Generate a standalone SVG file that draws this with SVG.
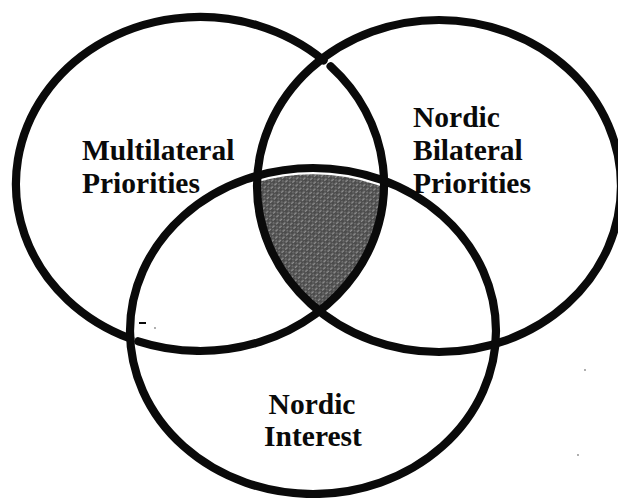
<svg xmlns="http://www.w3.org/2000/svg" width="618" height="498" viewBox="0 0 618 498">
  <style>
    .ring { fill: none; stroke: #0a0a0a; stroke-width: 8.2; stroke-linecap: round; }
    .label { font-family: "Liberation Serif", "Times New Roman", serif; font-weight: bold; font-size: 29.5px; fill: #0a0a0a; }
    .speck { fill: #8a8a8a; }
  </style>
  <defs>
    <clipPath id="clip-left">
      <ellipse cx="200" cy="184" rx="184" ry="167"/>
    </clipPath>
    <clipPath id="clip-right">
      <ellipse cx="439" cy="186" rx="182" ry="166"/>
    </clipPath>
    <!-- grainy grey used for the common area -->
    <pattern id="grain" width="5" height="5" patternUnits="userSpaceOnUse" patternTransform="rotate(-42)">
      <rect width="5" height="5" fill="#4c4c4c"/>
      <line x1="0" y1="1.2" x2="3.2" y2="1.2" stroke="#b8b8b8" stroke-width="0.9"/>
      <rect x="3.6" y="3.4" width="0.9" height="0.9" fill="#d4d4d4"/>
    </pattern>
  </defs>

  <rect width="618" height="498" fill="#ffffff"/>

  <!-- area shared by all three sets -->
  <g id="overlap" clip-path="url(#clip-left)">
    <g clip-path="url(#clip-right)">
      <ellipse cx="313" cy="331" rx="183" ry="163" fill="url(#grain)"/>
      <ellipse cx="313" cy="331" rx="183" ry="163" fill="none" stroke="#ffffff" stroke-width="12.5"/>
    </g>
  </g>

  <g id="multilateral">
    <!-- drawn in two pieces, with small breaks where it meets the other rings -->
    <path class="ring" d="M330.6,66.3 A184 167 0 0 1 138.3,341.3"/>
    <path class="ring" d="M130.2,338.5 A184 167 0 1 1 323.6,60.3"/>
    <text class="label" x="82" y="160">Multilateral</text>
    <text class="label" x="82" y="193">Priorities</text>
  </g>

  <g id="bilateral">
    <ellipse class="ring" cx="439" cy="186" rx="182" ry="166"/>
    <text class="label" x="413" y="127">Nordic</text>
    <text class="label" x="413" y="160">Bilateral</text>
    <text class="label" x="413" y="193">Priorities</text>
  </g>

  <g id="nordic-interest">
    <ellipse class="ring" cx="313" cy="331" rx="183" ry="163"/>
    <text class="label" x="312" y="414" text-anchor="middle">Nordic</text>
    <text class="label" x="313" y="446" text-anchor="middle">Interest</text>
  </g>

  <!-- stray print marks -->
  <path d="M139,323 h7" stroke="#0a0a0a" stroke-width="2" fill="none"/>
  <circle class="speck" cx="155" cy="328" r="0.9"/>
  <circle class="speck" cx="585" cy="370" r="0.9"/>
  <circle class="speck" cx="578" cy="455" r="0.9"/>
</svg>
